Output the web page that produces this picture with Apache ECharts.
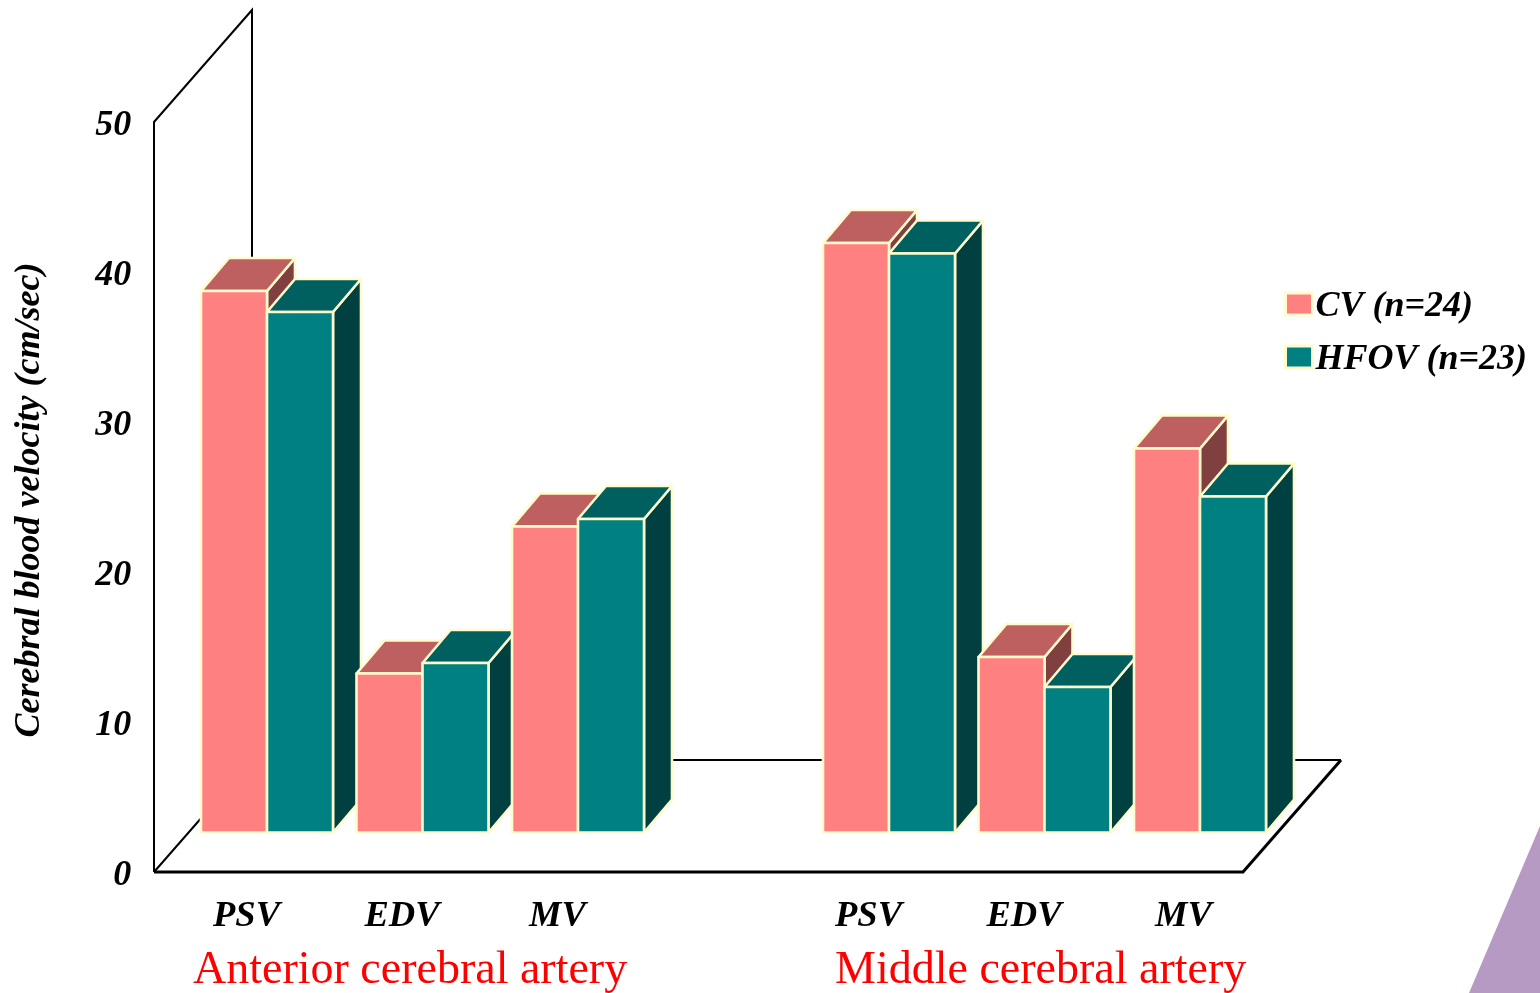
<!DOCTYPE html>
<html>
<head>
<meta charset="utf-8">
<title>Cerebral blood velocity</title>
<style>
  html, body { margin: 0; padding: 0; background: #fff; }
  #chart { width: 1540px; height: 993px; }
</style>
<script src="https://cdn.jsdelivr.net/npm/echarts@6/dist/echarts.min.js"></script>
</head>
<body>
<div id="chart"></div>
<script>
// Mean velocities, cm/sec. The empty slot separates the two arteries.
const categories = ['PSV', 'EDV', 'MV', '', 'PSV ', 'EDV ', 'MV '];
const cvValues = [36.1, 10.6, 20.4, null, 39.3, 11.7, 25.6];
const hfovValues = [34.7, 11.3, 20.9, null, 38.6, 9.7, 22.4];
const yTicks = { min: 0, max: 50, interval: 10 };
const seriesNames = ['CV (n=24)', 'HFOV (n=23)'];
const arteryNames = ['Anterior cerebral artery', 'Middle cerebral artery'];

const SERIF = '"Liberation Serif", "Times New Roman", serif';
const EDGE = '#FFFBCC';
const BAR_WIDTH = 66;
const DEPTH_X = 28;
const DEPTH_Y = 33;
const FLOOR_RISE = 39.5; // bars stand this far behind the front edge of the floor
const WALL_X = 98;
const WALL_Y = 112;

const palette = [
  { front: '#FF8080', top: '#BF6060', side: '#804040' },
  { front: '#008080', top: '#006060', side: '#004040' }
];

// Extruded bar: front face, top and right side, painted left to right.
function barRenderer(seriesSlot) {
  return function (params, api) {
    const value = api.value(1);
    if (value == null || isNaN(value)) return null;
    const base = api.coord([api.value(0), 0]);
    const head = api.coord([api.value(0), value]);
    const x0 = base[0] + (seriesSlot === 0 ? -BAR_WIDTH : 0);
    const x1 = x0 + BAR_WIDTH;
    const y0 = base[1] - FLOOR_RISE;
    const y1 = head[1] - FLOOR_RISE;
    const c = palette[seriesSlot];
    const z2 = params.dataIndex * 10 + seriesSlot;
    const stroke = { stroke: EDGE, lineWidth: 2.6, lineJoin: 'round' };
    const face = (points, fill, order) => ({
      type: 'polygon',
      z2: z2 + order,
      shape: { points },
      style: Object.assign({ fill }, stroke)
    });
    return {
      type: 'group',
      children: [
        face([[x1, y0], [x1 + DEPTH_X, y0 - DEPTH_Y], [x1 + DEPTH_X, y1 - DEPTH_Y], [x1, y1]], c.side, 0),
        face([[x0, y1], [x0 + DEPTH_X, y1 - DEPTH_Y], [x1 + DEPTH_X, y1 - DEPTH_Y], [x1, y1]], c.top, 1),
        face([[x0, y0], [x1, y0], [x1, y1], [x0, y1]], c.front, 2)
      ]
    };
  };
}

// Back wall, side wall and floor outline, behind the bars.
function frameRenderer(params, api) {
  if (params.dataIndex !== 0) return null;
  const origin = api.coord([0, 0]);
  const left = origin[0] - 113;
  const right = left + 1089;
  const bottom = origin[1];
  const top = api.coord([0, yTicks.max])[1];
  const line = (points, lineWidth) => ({
    type: 'polyline',
    z2: -1,
    shape: { points },
    style: { stroke: '#000', lineWidth, fill: null }
  });
  return {
    type: 'group',
    children: [
      line([[left, bottom], [left, top], [left + WALL_X, top - WALL_Y], [left + WALL_X, bottom - WALL_Y]], 2),
      line([[left, bottom], [left + WALL_X, bottom - WALL_Y], [right + WALL_X, bottom - WALL_Y]], 2),
      line([[left, bottom], [right, bottom], [right + WALL_X, bottom - WALL_Y]], 3)
    ]
  };
}

const boldItalic = { fontFamily: SERIF, fontWeight: 'bold', fontStyle: 'italic', color: '#000' };
const chart = echarts.init(document.getElementById('chart'), null, { renderer: 'canvas' });

chart.setOption({
  animation: false,
  backgroundColor: '#fff',
  grid: { left: 189.25, width: 1088.5, top: 122, bottom: 121, containLabel: false },
  xAxis: {
    type: 'category',
    data: categories,
    axisLine: { show: false },
    axisTick: { show: false },
    splitLine: { show: false },
    axisLabel: Object.assign({}, boldItalic, {
      interval: 0,
      fontSize: 36.5,
      margin: 26,
      padding: [0, 41, 0, 0],
      formatter: v => (v === 'MV ' ? '{nudged|MV}' : v.trim()),
      rich: { nudged: Object.assign({}, boldItalic, { fontSize: 36.5, padding: [0, 0, 0, 8] }) }
    })
  },
  yAxis: Object.assign({ type: 'value' }, yTicks, {
    name: 'Cerebral blood velocity (cm/sec)',
    nameLocation: 'middle',
    nameGap: 142,
    nameRotate: 90,
    nameTextStyle: Object.assign({}, boldItalic, { fontSize: 36, padding: [0, 6, 0, 0] }),
    axisLine: { show: false },
    axisTick: { show: false },
    splitLine: { show: false },
    axisLabel: Object.assign({}, boldItalic, {
      fontSize: 36,
      margin: 58,
      formatter: v => '{tick|' + v + '}',
      rich: { tick: Object.assign({}, boldItalic, { fontSize: 36, padding: [8, 0, 0, 0] }) }
    })
  }),
  legend: {
    left: 1284,
    top: 289,
    padding: 0,
    orient: 'vertical',
    // Swatch sits in the upper part of its box so it lines up with the text's cap height.
    icon: 'path://M0,0L27,0L27,22L0,22Z M0,28L0,28',
    symbolKeepAspect: false,
    itemWidth: 27,
    itemHeight: 28,
    itemGap: 17,
    selectedMode: false,
    data: seriesNames,
    itemStyle: { borderWidth: 3 },
    textStyle: Object.assign({}, boldItalic, { fontSize: 36, padding: [0, 0, 0, -2] })
  },
  graphic: [
    {
      type: 'polygon',
      silent: true,
      z: 0,
      shape: { points: [[1540, 826], [1469, 993], [1540, 993]] },
      style: { fill: '#B79AC4' }
    },
    {
      type: 'text', left: 193, top: 948,
      style: { text: arteryNames[0], fontFamily: SERIF, fontSize: 46, fill: '#FF0000' }
    },
    {
      type: 'text', left: 835, top: 948,
      style: { text: arteryNames[1], fontFamily: SERIF, fontSize: 46, fill: '#FF0000' }
    }
  ],
  series: [
    {
      name: 'frame',
      type: 'custom',
      renderItem: frameRenderer,
      data: [[0, 0]],
      encode: { x: 0, y: 1 },
      silent: true
    },
    {
      name: seriesNames[0],
      type: 'custom',
      renderItem: barRenderer(0),
      itemStyle: { color: palette[0].front, borderColor: EDGE, borderWidth: 3 },
      data: cvValues.map((v, i) => [i, v]),
      encode: { x: 0, y: 1 }
    },
    {
      name: seriesNames[1],
      type: 'custom',
      renderItem: barRenderer(1),
      itemStyle: { color: palette[1].front, borderColor: EDGE, borderWidth: 3 },
      data: hfovValues.map((v, i) => [i, v]),
      encode: { x: 0, y: 1 }
    }
  ]
});
</script>
</body>
</html>
